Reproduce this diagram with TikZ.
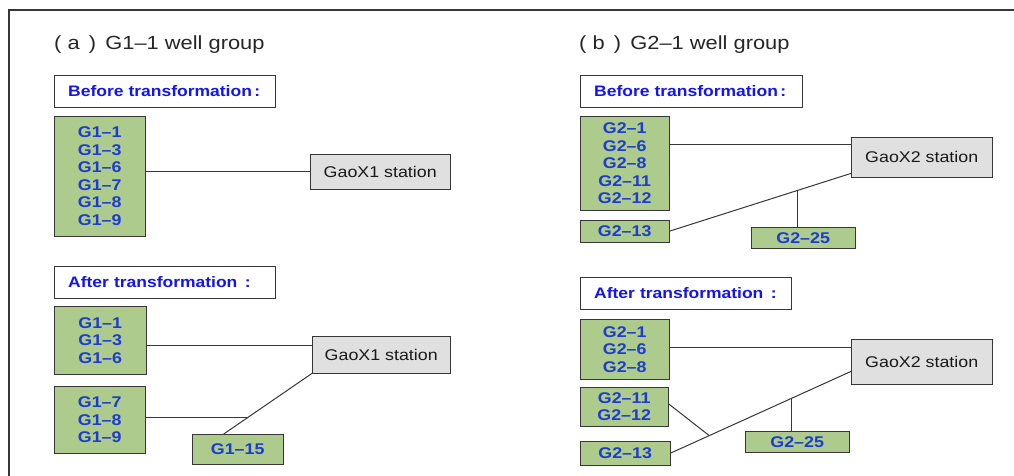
\documentclass[tikz,border=0pt]{standalone}
\usepackage{fontspec}
\setmainfont{Liberation Sans}[FakeStretch=1.15]
\usetikzlibrary{positioning,calc,shadows}
\definecolor{wellgreen}{RGB}{172,203,140}
\definecolor{stagray}{RGB}{224,224,224}
\definecolor{labelblue}{RGB}{20,20,235}
\definecolor{wellblue}{RGB}{30,60,205}
\definecolor{edgegray}{RGB}{55,55,55}

\begin{document}
\begin{tikzpicture}[
    x=1pt, y=-1pt,
    every node/.style={font=\fontsize{15.5}{17.5}\selectfont},
    grouptitle/.style={anchor=west, inner sep=0pt, text=black!85,
      font=\fontsize{19}{21}\selectfont},
    stage/.style={rectangle, draw=edgegray, fill=white, anchor=north west,
      minimum width=221pt, minimum height=32pt, inner xsep=14pt, inner ysep=0pt,
      text width=193pt, align=left, text=labelblue,
      font=\bfseries\fontsize{15.2}{17}\selectfont},
    wells/.style={rectangle, draw=edgegray, fill=wellgreen, anchor=north west,
      inner sep=0pt, align=center, text=wellblue,
      font=\bfseries\fontsize{15.5}{17.5}\selectfont,
      drop shadow={shadow xshift=1.2pt, shadow yshift=-1.2pt, opacity=.25}},
    station/.style={rectangle, draw=edgegray, fill=stagray, anchor=north west,
      inner sep=0pt, text=black!90},
    link/.style={draw=edgegray, line width=1pt}
]
\path[use as bounding box, fill=white] (0,0) rectangle (1014,476);
\draw[edgegray, line width=1.3pt] (9,476) -- (9,10) -- (1014,10);

% (a) G1-1
\node[grouptitle] (titleA) at (54,45) {( a \,)\,\ G1–1 well group};
\node[stage] (preA) at (54,75) {Before transformation\,:};
\node[wells, minimum width=91pt, minimum height=120pt] (grpA1) at (54,116)
  {G1–1\\G1–3\\G1–6\\G1–7\\G1–8\\G1–9};
\node[station, minimum width=140pt, minimum height=35pt] (staA1) at (310,154) {GaoX1 station};

\node[stage] (postA) at (54,266) {After transformation \,:};
\node[wells, minimum width=92pt, minimum height=68pt] (grpA2) at (54,306) {G1–1\\G1–3\\G1–6};
\node[station, minimum width=138pt, minimum height=37pt] (staA2) at (312,336) {GaoX1 station};
\node[wells, minimum width=91pt, minimum height=67pt] (grpA3) at (54,386) {G1–7\\G1–8\\G1–9};
\node[wells, minimum width=91pt, minimum height=30pt] (g15post) at (192,434) {G1–15};

\draw[link] (staA1.west -| grpA1.east) -- (staA1.west);
\coordinate (hA2) at ([yshift=-5pt]grpA2.east);
\draw[link] (hA2) -- (hA2 -| staA2.west);
\coordinate (g15top) at ([xshift=-14pt]g15post.north);
\draw[link] (g15top) -- (staA2.south west);
\coordinate (jA) at ($(g15top)!0.27!(staA2.south west)$);
\draw[link] (jA -| grpA3.east) -- (jA);

% (b) G2-1
\node[grouptitle] (titleB) at (579,45) {( b \,)\,\ G2–1 well group};
\node[stage, minimum width=222pt, text width=194pt] (preB) at (580,75) {Before transformation\,:};
\node[wells, minimum width=89pt, minimum height=94pt] (grpB1) at (580,116)
  {G2–1\\G2–6\\G2–8\\G2–11\\G2–12};
\node[station, minimum width=141pt, minimum height=40pt] (staB1) at (851,137) {GaoX2 station};
\node[wells, minimum width=89pt, minimum height=22pt] (g13pre) at (580,220) {G2–13};
\node[wells, minimum width=104pt, minimum height=21pt] (g25pre) at (751,227) {G2–25};

\node[stage, minimum width=211pt, text width=183pt] (postB) at (580,277) {After transformation \,:};
\node[wells, minimum width=89pt, minimum height=60pt] (grpB2) at (580,319) {G2–1\\G2–6\\G2–8};
\node[station, minimum width=141pt, minimum height=45pt] (staB2) at (851,339) {GaoX2 station};
\node[wells, minimum width=88pt, minimum height=39pt] (grpB3) at (580,387) {G2–11\\G2–12};
\node[wells, minimum width=90pt, minimum height=24pt] (g13post) at (580,441) {G2–13};
\node[wells, minimum width=104pt, minimum height=21pt] (g25post) at (745,431) {G2–25};

\coordinate (hB1) at ([yshift=13pt]staB1.west);
\draw[link] (hB1 -| grpB1.east) -- (hB1);
\coordinate (dB1) at ([yshift=4pt]staB1.south west);
\draw[link] (g13pre.east) -- (dB1);
\coordinate (jB1) at ($(g13pre.east)!0.703!(dB1)$);
\draw[link] (jB1) -- (jB1 |- g25pre.north);

\coordinate (hB2) at ([yshift=2pt]grpB2.east);
\draw[link] (hB2) -- (hB2 -| staB2.west);
\coordinate (dB2) at ([yshift=13pt]staB2.south west);
\draw[link] (g13post.east) -- (dB2);
\coordinate (jB2) at ($(g13post.east)!0.215!(dB2)$);
\draw[link] ([yshift=3pt]grpB3.east) -- (jB2);
\coordinate (jB3) at ($(g13post.east)!0.669!(dB2)$);
\draw[link] (jB3) -- (jB3 |- g25post.north);
\end{tikzpicture}
\end{document}
